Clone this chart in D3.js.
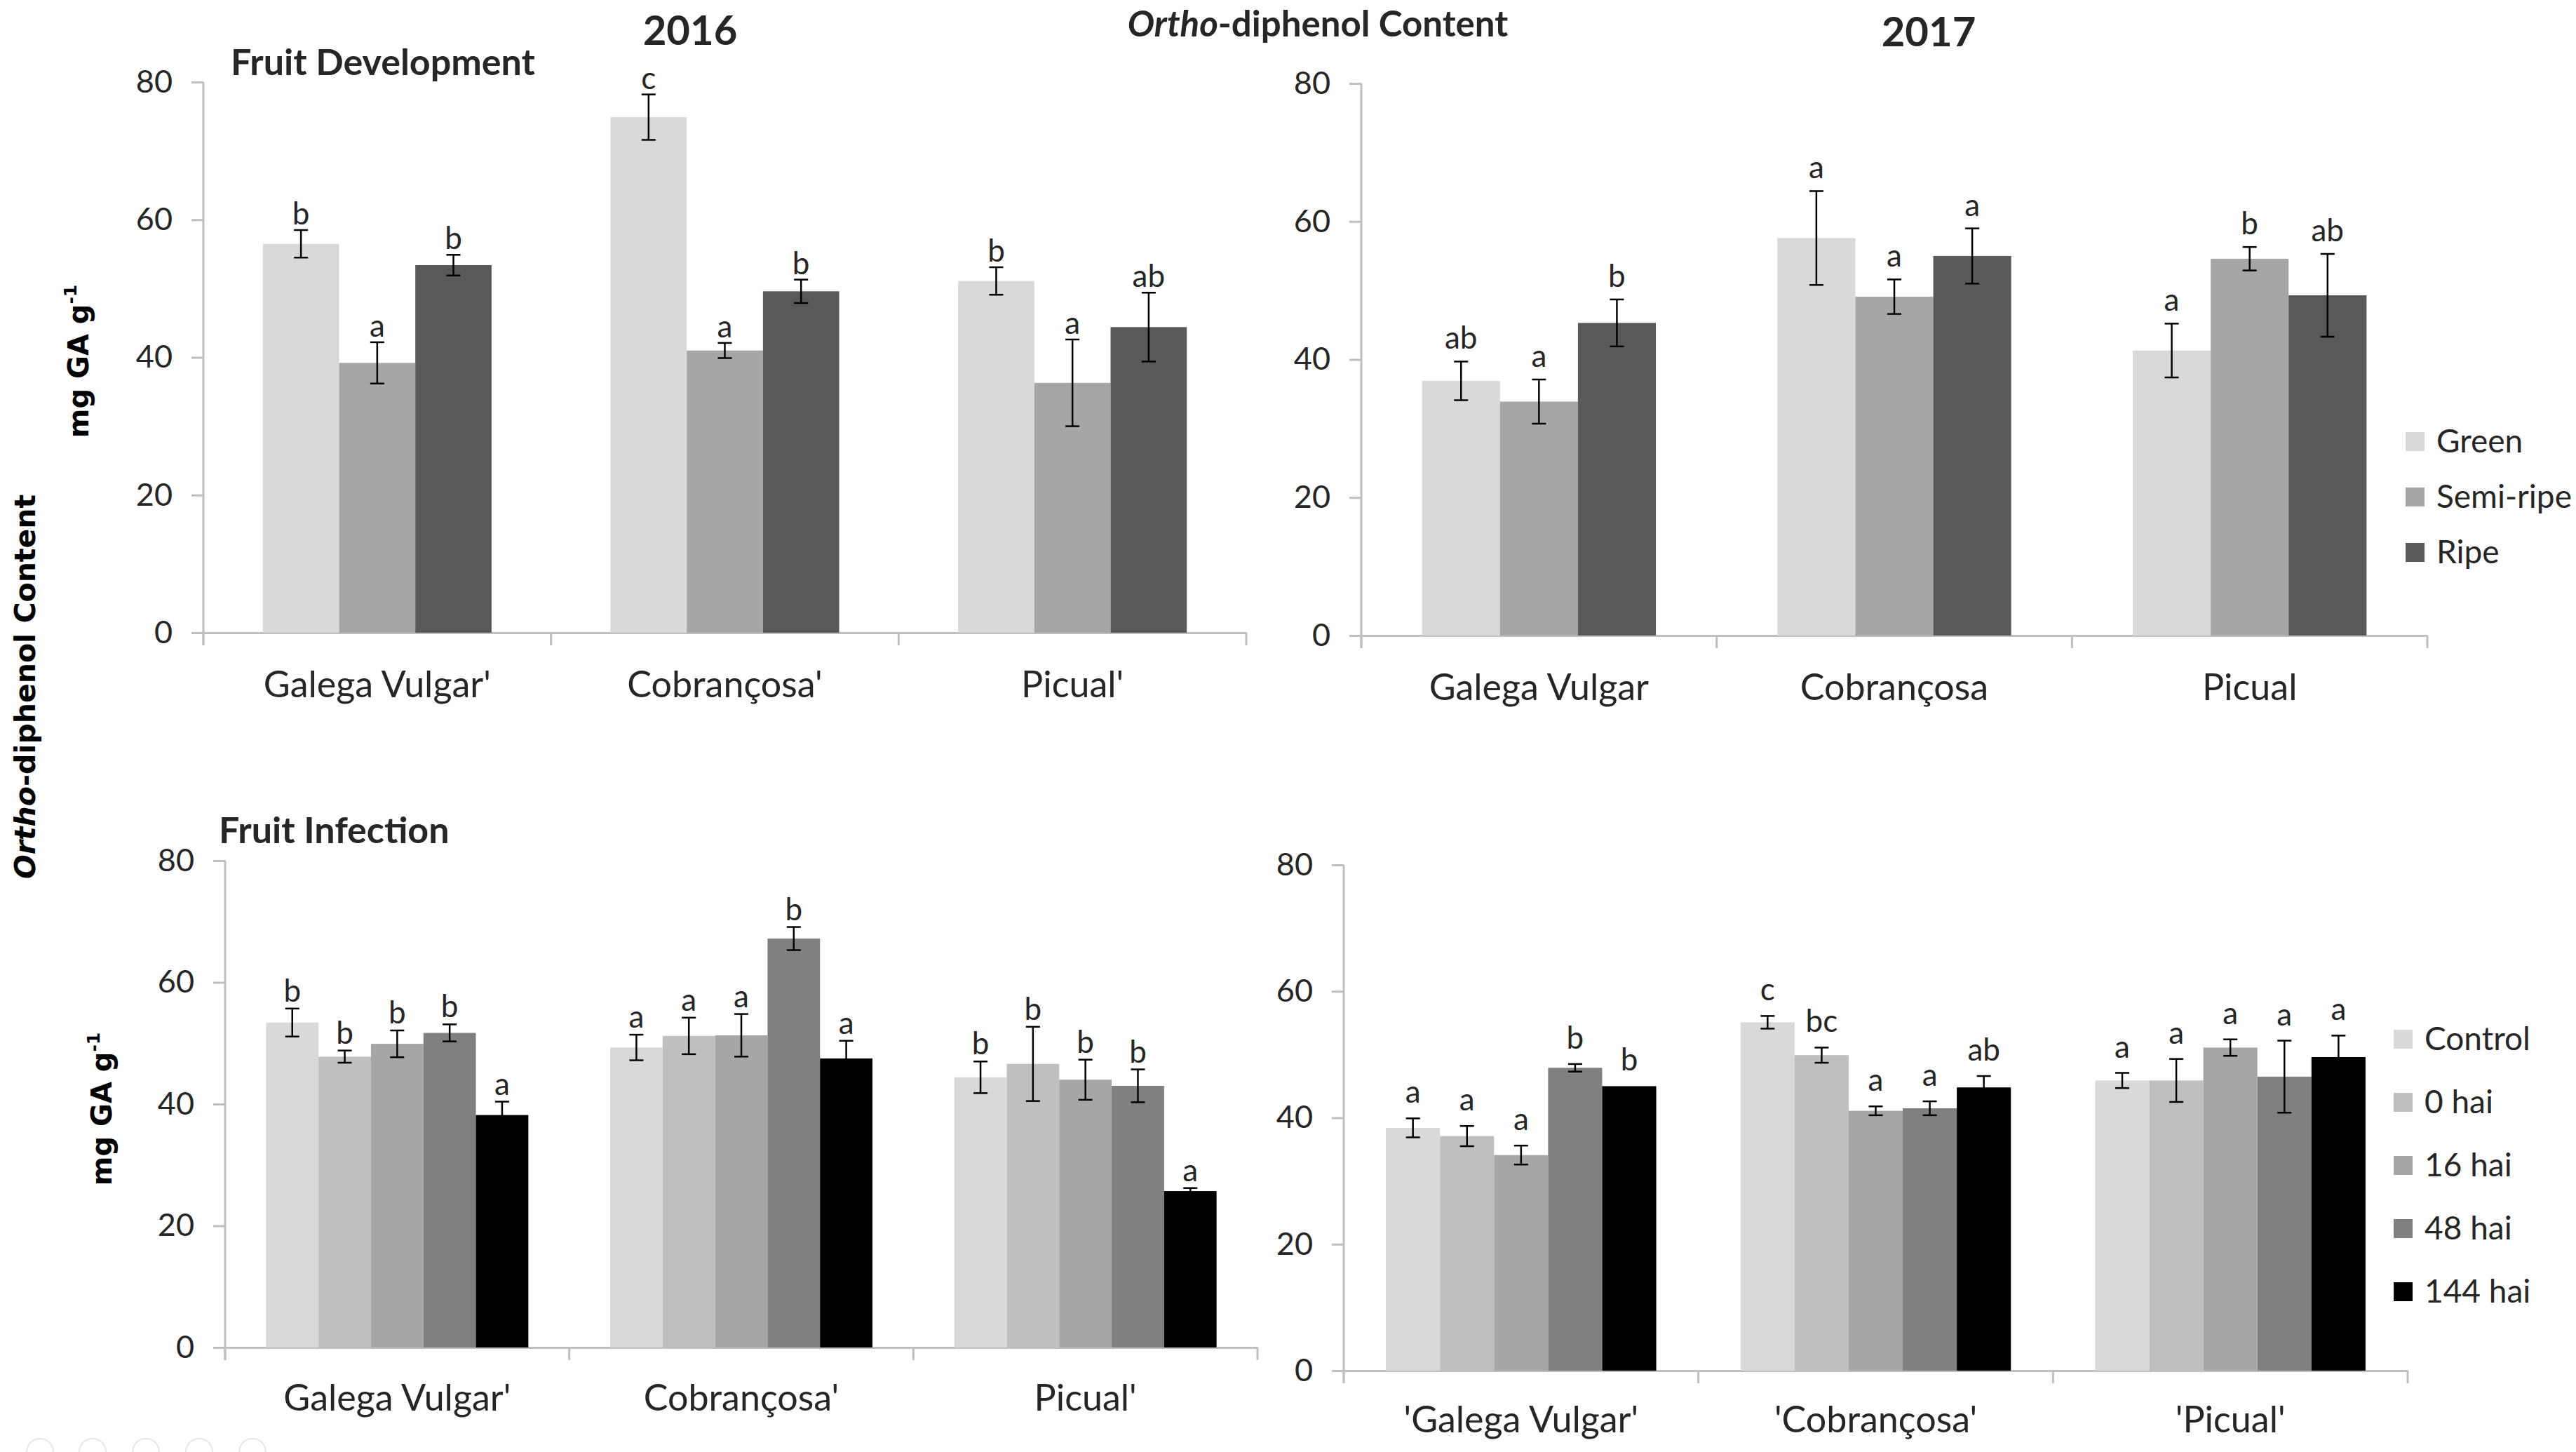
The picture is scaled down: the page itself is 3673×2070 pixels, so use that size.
<!DOCTYPE html>
<html>
<head>
<meta charset="utf-8">
<script src="https://cdn.jsdelivr.net/npm/d3@7"></script>
<style>
    body { margin: 0; background: #fff; }
    svg { display: block; }
    .tick text { font-family: Lato, "Open Sans", sans-serif; fill: #262626; }
    .lbl { font-family: Lato, "Open Sans", sans-serif; fill: #262626; }
</style>
</head>
<body>
<div id="chart"></div>
<script>
// cultivars
const cultivars2016 = ["Galega Vulgar'", "Cobrançosa'", "Picual'"];
const cultivars2017 = ["Galega Vulgar", "Cobrançosa", "Picual"];
const cultivarsInf2017 = ["'Galega Vulgar'", "'Cobrançosa'", "'Picual'"];

// series
const stages = ["Green", "Semi-ripe", "Ripe"];
const stageColors = ["#d9d9d9", "#a6a6a6", "#595959"];
const times = ["Control", "0 hai", "16 hai", "48 hai", "144 hai"];
const timeColors = ["#d9d9d9", "#bfbfbf", "#a6a6a6", "#808080", "#000000"];
const yTicks = [0, 20, 40, 60, 80];

// fruit development 2016 (rows = cultivar, cols = stage)
const dev2016 = [[56.5, 39.2, 53.4], [74.9, 41.0, 49.6], [51.1, 36.3, 44.4]];
const dev2016Err = [[2.0, 3.0, 1.5], [3.3, 1.1, 1.7], [2.0, 6.3, 5.0]];
const dev2016Letters = [["b", "a", "b"], ["c", "a", "b"], ["b", "a", "ab"]];

// fruit development 2017
const dev2017 = [[36.9, 33.9, 45.3], [57.6, 49.1, 55.0], [41.3, 54.6, 49.3]];
const dev2017Err = [[2.8, 3.2, 3.4], [6.8, 2.5, 4.0], [3.9, 1.7, 6.0]];
const dev2017Letters = [["ab", "a", "b"], ["a", "a", "a"], ["a", "b", "ab"]];

// fruit infection 2016 (rows = cultivar, cols = time)
const inf2016 = [[53.4, 47.8, 49.9, 51.7, 38.2], [49.3, 51.2, 51.3, 67.2, 47.5], [44.4, 46.6, 44.0, 43.0, 25.7]];
const inf2016Err = [[2.3, 1.0, 2.2, 1.4, 2.2], [2.1, 3.0, 3.5, 1.9, 2.9], [2.6, 6.1, 3.3, 2.7, 0.5]];
const inf2016Letters = [["b", "b", "b", "b", "a"], ["a", "a", "a", "b", "a"], ["b", "b", "b", "b", "a"]];

// fruit infection 2017
const inf2017 = [[38.4, 37.1, 34.1, 47.9, 45.0], [55.1, 49.9, 41.1, 41.5, 44.8], [45.9, 45.9, 51.1, 46.5, 49.6]];
const inf2017Err = [[1.5, 1.6, 1.5, 0.6, 0], [1.0, 1.2, 0.7, 1.1, 1.8], [1.2, 3.4, 1.3, 5.7, 3.4]];
const inf2017Letters = [["a", "a", "a", "b", "b"], ["c", "bc", "a", "a", "ab"], ["a", "a", "a", "a", "a"]];

const W = 3673, H = 2070;
const svg = d3.select("#chart").append("svg")
    .attr("width", W)
    .attr("height", H)
    .attr("viewBox", `0 0 ${W} ${H}`);

svg.append("rect").attr("width", W).attr("height", H).attr("fill", "#fff");

function drawPanel(cfg){
    const g = svg.append("g");

    const y = d3.scaleLinear().domain([0, 80]).range([cfg.bottom, cfg.top]);
    const x0 = d3.scaleBand().domain(cfg.cats).range([cfg.left, cfg.right]).padding(0);
    const x1 = d3.scaleBand().domain(cfg.series).range([0, x0.bandwidth()])
        .paddingInner(0).paddingOuter(0.78);
    const color = d3.scaleOrdinal().domain(cfg.series).range(cfg.colors);

    // y axis
    const yAxis = g.append("g")
        .attr("transform", `translate(${cfg.left},0)`)
        .call(d3.axisLeft(y).tickValues(yTicks).tickSize(17).tickSizeOuter(0).tickPadding(27));
    yAxis.select(".domain").attr("stroke", "#bfbfbf").attr("stroke-width", 3)
        .attr("d", `M0,${y(80)}V${cfg.bottom + 18}`);
    yAxis.selectAll(".tick line").attr("stroke", "#bfbfbf").attr("stroke-width", 3);
    yAxis.selectAll(".tick text").attr("font-size", 45);

    // x axis line + boundary ticks
    const xAxis = g.append("g")
        .attr("transform", `translate(0,${cfg.bottom})`)
        .call(d3.axisBottom(x0).tickSize(0).tickSizeOuter(0));
    xAxis.select(".domain").attr("stroke", "#bfbfbf").attr("stroke-width", 3);
    xAxis.selectAll(".tick text")
        .attr("font-size", 52)
        .attr("y", cfg.labelOffset)
        .attr("dy", 0);
    const bounds = cfg.cats.map(c => x0(c)).concat([cfg.right]);
    xAxis.selectAll(".bound").data(bounds).enter().append("line")
        .attr("x1", d => d).attr("x2", d => d)
        .attr("y1", 0).attr("y2", 18)
        .attr("stroke", "#bfbfbf").attr("stroke-width", 3);

    // bars
    const groups = g.selectAll(".grp").data(cfg.cats).enter().append("g")
        .attr("transform", d => `translate(${x0(d)},0)`);

    const cells = groups.selectAll(".cell")
        .data((c, ci) => cfg.series.map((s, si) => ({
            s, v: cfg.values[ci][si], e: cfg.errors[ci][si], l: cfg.letters[ci][si]
        })))
        .enter().append("g");

    cells.append("rect")
        .attr("x", d => x1(d.s))
        .attr("width", x1.bandwidth())
        .attr("y", d => y(d.v))
        .attr("height", d => y(0) - y(d.v))
        .attr("fill", d => color(d.s));

    const cx = d => x1(d.s) + x1.bandwidth() / 2;
    const errs = cells.filter(d => d.e > 0);
    errs.append("line")
        .attr("x1", cx).attr("x2", cx)
        .attr("y1", d => y(d.v + d.e)).attr("y2", d => y(d.v - d.e))
        .attr("stroke", "#000").attr("stroke-width", 2.5);
    errs.append("line")
        .attr("x1", d => cx(d) - 10).attr("x2", d => cx(d) + 10)
        .attr("y1", d => y(d.v + d.e)).attr("y2", d => y(d.v + d.e))
        .attr("stroke", "#000").attr("stroke-width", 2.5);
    errs.append("line")
        .attr("x1", d => cx(d) - 10).attr("x2", d => cx(d) + 10)
        .attr("y1", d => y(d.v - d.e)).attr("y2", d => y(d.v - d.e))
        .attr("stroke", "#000").attr("stroke-width", 2.5);

    cells.append("text")
        .attr("class", "lbl")
        .attr("x", cx)
        .attr("y", d => y(d.v + d.e) - cfg.letterGap)
        .attr("text-anchor", "middle")
        .attr("font-size", 44)
        .text(d => d.l);

    // legend
    if(cfg.legend){
        const lg = g.append("g");
        cfg.series.forEach((s, i) => {
            const ly = cfg.legend.y + i * cfg.legend.step;
            lg.append("rect")
                .attr("x", cfg.legend.x).attr("y", ly - 13)
                .attr("width", 27).attr("height", 27)
                .attr("fill", color(s));
            lg.append("text")
                .attr("class", "lbl")
                .attr("x", cfg.legend.x + 44).attr("y", ly + 16)
                .attr("font-size", 46)
                .text(s);
        });
    }
}

drawPanel({
    cats: cultivars2016, series: stages, colors: stageColors,
    values: dev2016, errors: dev2016Err, letters: dev2016Letters,
    left: 290, right: 1777, top: 117, bottom: 902, labelOffset: 92, letterGap: 8
});
drawPanel({
    cats: cultivars2017, series: stages, colors: stageColors,
    values: dev2017, errors: dev2017Err, letters: dev2017Letters,
    left: 1941, right: 3461, top: 119, bottom: 906, labelOffset: 92, letterGap: 18,
    legend: { x: 3430, y: 629, step: 79 }
});
drawPanel({
    cats: cultivars2016, series: times, colors: timeColors,
    values: inf2016, errors: inf2016Err, letters: inf2016Letters,
    left: 321, right: 1793, top: 1227, bottom: 1921, labelOffset: 90, letterGap: 10
});
drawPanel({
    cats: cultivarsInf2017, series: times, colors: timeColors,
    values: inf2017, errors: inf2017Err, letters: inf2017Letters,
    left: 1916, right: 3433, top: 1233, bottom: 1954, labelOffset: 88, letterGap: 22,
    legend: { x: 3413, y: 1481, step: 90 }
});

// titles
const title = (x, y, size, txt, anchor) => svg.append("text")
    .attr("class", "lbl")
    .attr("x", x).attr("y", y)
    .attr("font-size", size)
    .attr("font-weight", "bold")
    .attr("fill", "#000")
    .attr("text-anchor", anchor || "start")
    .text(txt);

title(984, 64, 58, "2016", "middle");
title(2750, 66, 58, "2017", "middle");
title(329, 107, 52, "Fruit Development");
title(312, 1202, 52, "Fruit Infection");

const mainTitle = svg.append("text")
    .attr("class", "lbl")
    .attr("x", 1879).attr("y", 52)
    .attr("font-size", 51)
    .attr("font-weight", "bold")
    .attr("fill", "#000")
    .attr("text-anchor", "middle");
mainTitle.append("tspan").attr("font-style", "italic").text("Ortho");
mainTitle.append("tspan").text("-diphenol Content");

// rotated y titles
const sideTitle = svg.append("text")
    .attr("transform", "translate(50,979) rotate(-90)")
    .attr("font-family", "'DejaVu Sans', sans-serif")
    .attr("font-size", 41)
    .attr("font-weight", "bold")
    .attr("text-anchor", "middle");
sideTitle.append("tspan").attr("font-style", "italic").text("Ortho");
sideTitle.append("tspan").text("-diphenol Content");

function unitLabel(x, y){
    const t = svg.append("text")
        .attr("transform", `translate(${x},${y}) rotate(-90)`)
        .attr("font-family", "'DejaVu Sans', sans-serif")
        .attr("font-size", 40)
        .attr("font-weight", "bold")
        .attr("text-anchor", "middle");
    t.append("tspan").text("mg GA g");
    t.append("tspan").attr("font-size", 25).attr("dy", -17).text("-1");
}
unitLabel(126, 515);
unitLabel(159, 1581);

// faint marks at bottom left
svg.append("g").selectAll("circle")
    .data([57, 132, 208, 284, 360])
    .enter().append("circle")
    .attr("cx", d => d).attr("cy", 2070)
    .attr("r", 19)
    .attr("fill", "none")
    .attr("stroke", "#e6e6e6")
    .attr("stroke-width", 2);
</script>
</body>
</html>
